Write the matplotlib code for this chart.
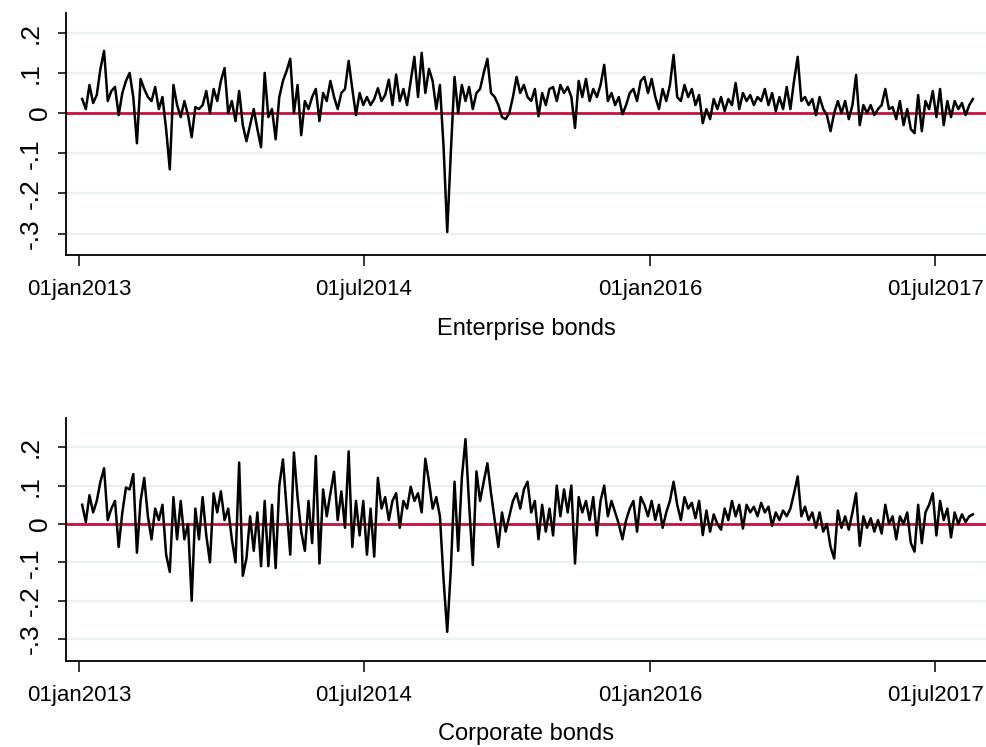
import numpy as np
import pandas as pd
import matplotlib
matplotlib.use('Agg')
import matplotlib.pyplot as plt
import matplotlib.transforms as mtransforms
from matplotlib import font_manager

names = {f.name for f in font_manager.fontManager.ttflist}
narrow = 'Liberation Sans Narrow' if 'Liberation Sans Narrow' in names else 'Liberation Sans'

# weekly readings, first point 07jan2013
start = '2013-01-07'

enterprise = [
    0.035, 0.010, 0.070, 0.025, 0.045, 0.110, 0.155, 0.030, 0.055, 0.065,
    -0.005, 0.050, 0.080, 0.100, 0.040, -0.075, 0.085, 0.060, 0.040, 0.030,
    0.065, 0.010, 0.040, -0.040, -0.140, 0.070, 0.020, -0.010, 0.030, -0.005,
    -0.060, 0.015, 0.010, 0.020, 0.055, 0.000, 0.060, 0.030, 0.080, 0.112,
    0.000, 0.030, -0.020, 0.055, -0.030, -0.070, -0.030, 0.010, -0.040, -0.085,
    0.100, -0.010, 0.010, -0.065, 0.040, 0.080, 0.105, 0.135, 0.000, 0.070,
    -0.055, 0.030, 0.010, 0.040, 0.060, -0.020, 0.050, 0.030, 0.080, 0.040,
    0.010, 0.050, 0.060, 0.130, 0.060, -0.005, 0.050, 0.020, 0.040, 0.020,
    0.035,
    0.062, 0.030, 0.045, 0.083, 0.020, 0.096, 0.030, 0.060, 0.020, 0.080,
    0.140, 0.040, 0.150, 0.050, 0.110, 0.080, 0.010, 0.070, -0.085, -0.296,
    -0.095, 0.090, 0.000, 0.070, 0.030, 0.065, 0.010, 0.050, 0.060, 0.100,
    0.135, 0.050, 0.040, 0.020, -0.010, -0.015, 0.000, 0.040, 0.090, 0.050,
    0.070, 0.040, 0.030, 0.060, -0.008, 0.050, 0.020, 0.060, 0.065, 0.030,
    0.070, 0.050, 0.065, 0.040, -0.037, 0.080, 0.040, 0.085, 0.030, 0.060,
    0.040, 0.070, 0.120, 0.030, 0.050, 0.020, 0.040, -0.003, 0.020, 0.050,
    0.060, 0.030, 0.080, 0.090, 0.050, 0.085, 0.040, 0.010, 0.060, 0.030,
    0.070, 0.145,
    0.040, 0.030, 0.070, 0.040, 0.060, 0.020, 0.045, -0.025, 0.010, -0.015,
    0.035, 0.010, 0.040, 0.005, 0.035, 0.020, 0.075, 0.010, 0.050, 0.030,
    0.045, 0.020, 0.040, 0.030, 0.060, 0.020, 0.050, 0.005, 0.040, 0.010,
    0.065, 0.010, 0.080, 0.140, 0.030, 0.040, 0.020, 0.035, -0.005, 0.040,
    0.010, -0.005, -0.045, 0.000, 0.030, 0.000, 0.030, -0.015, 0.020, 0.095,
    -0.030, 0.020, 0.000, 0.020, -0.005, 0.010, 0.020, 0.060, 0.010, 0.015,
    -0.015, 0.030, -0.030, 0.010, -0.040, -0.050, 0.045, -0.045, 0.030, 0.010,
    0.055, -0.010, 0.060, -0.030, 0.030, -0.010, 0.030, 0.010, 0.025, -0.005,
    0.020, 0.035,
]

corporate = [
    0.050, 0.005, 0.075, 0.030, 0.060, 0.110, 0.145, 0.010, 0.040, 0.060,
    -0.060, 0.030, 0.095, 0.090, 0.130, -0.075, 0.060, 0.120, 0.020, -0.040,
    0.040, 0.010, 0.050, -0.080, -0.125, 0.070, -0.040, 0.060, -0.040, 0.000,
    -0.200, 0.040, -0.040, 0.070, -0.030, -0.100, 0.080, 0.030, 0.085, 0.010,
    0.040, -0.040, -0.100, 0.160, -0.135, -0.090, 0.020, -0.070, 0.030, -0.110,
    0.060, -0.110, 0.050, -0.115, 0.100, 0.168, 0.040, -0.080, 0.186, 0.070,
    -0.020, -0.070, 0.060, -0.050, 0.177, -0.103, 0.090, 0.020, 0.080, 0.136,
    0.010, 0.085, -0.010, 0.189, -0.060, 0.060, -0.030, 0.060, -0.080, 0.040,
    -0.085,
    0.120, 0.040, 0.070, 0.010, 0.060, 0.080, -0.010, 0.060, 0.040, 0.097,
    0.060, 0.080, 0.030, 0.170, 0.110, 0.040, 0.070, 0.020, -0.146, -0.281,
    -0.116, 0.110, -0.070, 0.120, 0.221, 0.050, -0.107, 0.137, 0.060, 0.110,
    0.158, 0.080, 0.010, -0.060, 0.030, -0.020, 0.020, 0.060, 0.080, 0.040,
    0.090, 0.110, 0.030, 0.060, -0.040, 0.050, -0.020, 0.040, -0.030, 0.100,
    0.020, 0.090, 0.030, 0.100, -0.103, 0.070, 0.030, 0.060, 0.010, 0.070,
    -0.030, 0.060, 0.100, 0.020, 0.060, 0.030, 0.000, -0.040, 0.010, 0.040,
    0.060, -0.020, 0.070, 0.050, 0.020, 0.060, 0.010, 0.050, -0.010, 0.030,
    0.060, 0.110,
    0.050, 0.010, 0.070, 0.040, 0.055, 0.015, 0.060, -0.029, 0.035, -0.020,
    0.025, 0.000, -0.015, 0.040, 0.010, 0.060, 0.020, 0.050, -0.012, 0.050,
    0.030, 0.045, 0.020, 0.055, 0.030, 0.045, -0.005, 0.030, 0.010, 0.035,
    0.020, 0.040, 0.080, 0.124, 0.020, 0.045, 0.010, 0.030, -0.010, 0.030,
    -0.020, 0.000, -0.060, -0.090, 0.035, -0.010, 0.020, -0.015, 0.030, 0.080,
    -0.057, 0.020, -0.010, 0.015, -0.020, 0.010, -0.025, 0.050, 0.000, 0.020,
    -0.040, 0.020, 0.000, 0.030, -0.050, -0.072, 0.050, -0.050, 0.030, 0.050,
    0.080, -0.030, 0.060, 0.010, 0.040, -0.035, 0.030, 0.000, 0.025, 0.005,
    0.020, 0.025,
]

xtick_dates = ['2013-01-01', '2014-07-01', '2016-01-01', '2017-07-01']
xtick_labels = ['01jan2013', '01jul2014', '01jan2016', '01jul2017']
ytick_vals = [-0.3, -0.2, -0.1, 0, 0.1, 0.2]
ytick_labels = ['-.3', '-.2', '-.1', '0', '.1', '.2']

dates = pd.date_range(start, periods=len(enterprise), freq='7D')
x0 = pd.Timestamp('2013-01-01')

fig = plt.figure(figsize=(9.87, 7.47), dpi=100)
ax1 = fig.add_axes([66/987, 1-255/747, 921/987, 242/747])
ax2 = fig.add_axes([66/987, 1-661/747, 921/987, 243/747])


def panel(ax, vals, title, ylim, label_y):
    ax.plot(dates, vals, color='black', lw=1.8, zorder=3)
    ax.axhline(0, color='#c8103c', lw=2.0, zorder=2)
    ax.set_xlim(x0 - pd.Timedelta(days=25), x0 + pd.Timedelta(days=1741))
    ax.set_ylim(*ylim)
    ax.set_yticks(ytick_vals)
    ax.set_yticklabels(ytick_labels, rotation=90, va='center', ha='right',
                       fontsize=19, family='Liberation Sans')
    ax.set_xticks(pd.to_datetime(xtick_dates))
    ax.set_xticklabels(xtick_labels, fontsize=16, family=narrow)
    ax.yaxis.grid(True, color='#eaf1f3', lw=1.6)
    ax.set_axisbelow(True)
    for s in ['top', 'right']:
        ax.spines[s].set_visible(False)
    for s in ['left', 'bottom']:
        ax.spines[s].set_linewidth(1.3)
    ax.tick_params(axis='x', length=8, width=1.1, pad=9)
    ax.tick_params(axis='y', length=6, width=1.1, pad=11)
    ax.set_xlabel(title, fontsize=17, family=narrow, va='top')
    ax.xaxis.set_label_coords(0.5, label_y)
    # the zero label sits closer to the axis in the original
    shift = mtransforms.ScaledTranslation(0.10, 0, fig.dpi_scale_trans)
    for lab in ax.get_yticklabels():
        if lab.get_text() == '0':
            lab.set_transform(lab.get_transform() + shift)


panel(ax1, enterprise, 'Enterprise bonds', (-0.353, 0.249), -0.26)
panel(ax2, corporate, 'Corporate bonds', (-0.357, 0.276), -0.255)

fig.savefig('out.png', dpi=100)
